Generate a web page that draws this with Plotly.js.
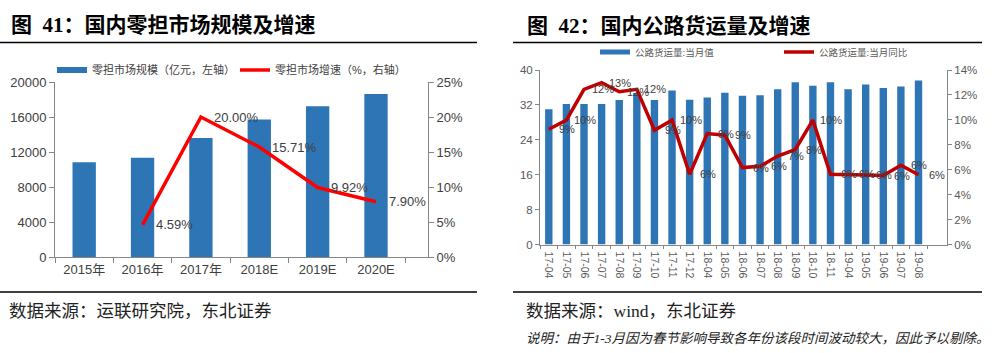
<!DOCTYPE html>
<html>
<head>
<meta charset="utf-8">
<script src="https://cdn.plot.ly/plotly-3.0.1.min.js"></script>
<style>
html,body{margin:0;padding:0;background:#fff;}
#chart{width:1005px;height:353px;}
</style>
</head>
<body>
<div id="chart"></div>
<script>
// ---- Figure 41 data ----
const years = ['2015年', '2016年', '2017年', '2018E', '2019E', '2020E'];
const marketSize = [10830, 11330, 13600, 15720, 17240, 18640];
const marketGrowth = [null, 4.59, 20.00, 15.71, 9.92, 7.90];
const marketGrowthLabels = ['', '4.59%', '20.00%', '15.71%', '9.92%', '7.90%'];

// ---- Figure 42 data ----
const months = ['17-04','17-05','17-06','17-07','17-08','17-09','17-10','17-11','17-12',
                '18-04','18-05','18-06','18-07','18-08','18-09','18-10','18-11',
                '19-04','19-05','19-06','19-07','19-08'];
const freightVolume = [31.0, 32.2, 32.2, 32.2, 33.1, 34.7, 33.1, 35.3, 33.2,
                       33.7, 34.8, 34.1, 34.2, 35.6, 37.2, 36.4, 37.2,
                       35.6, 36.7, 35.9, 36.2, 37.6];
const freightYoY = [9.25, 9.98, 12.45, 12.98, 12.25, 12.45, 9.17, 9.98, 5.63,
                    8.9, 8.77, 6.17, 6.27, 7.1, 7.62, 9.98, 5.63,
                    5.63, 5.58, 5.53, 6.36, 5.6];
const freightYoYLabels = ['9%','10%','12%','13%','12%','12%','9%','10%','6%',
                          '9%','9%','6%','6%','7%','8%','10%','6%',
                          '6%','6%','6%','6%','6%'];

const W = 1005, H = 353;
const px = v => v / W;
const py = v => 1 - v / H;

const BLUE = '#2E75B6';
const RED1 = '#FF0000';
const RED2 = '#C00000';
const SANS = 'Liberation Sans, Arial, Noto Sans CJK SC, sans-serif';
const SERIF = 'Liberation Serif, Noto Sans CJK SC, serif';

const traces = [
  // Fig 41
  {type:'bar', x: years, y: marketSize, xaxis:'x', yaxis:'y', marker:{color:BLUE},
   width:0.4, showlegend:false, hoverinfo:'skip'},
  {type:'scatter', mode:'lines', x:[null], y:[null], xaxis:'x', yaxis:'y',
   line:{color:BLUE, width:6}, name:'零担市场规模（亿元，左轴）', legend:'legend', hoverinfo:'skip'},
  {type:'scatter', mode:'lines', x: years, y: marketGrowth, xaxis:'x', yaxis:'y2',
   line:{color:RED1, width:3.5}, connectgaps:false, name:'零担市场增速（%，右轴）', legend:'legend2', hoverinfo:'skip'},
  // Fig 42
  {type:'bar', x: months, y: freightVolume, xaxis:'x2', yaxis:'y3', marker:{color:BLUE},
   width:0.42, showlegend:false, hoverinfo:'skip'},
  {type:'scatter', mode:'lines', x:[null], y:[null], xaxis:'x2', yaxis:'y3',
   line:{color:BLUE, width:5}, name:'公路货运量:当月值', legend:'legend3', hoverinfo:'skip'},
  {type:'scatter', mode:'lines', x: months, y: freightYoY, xaxis:'x2', yaxis:'y4',
   line:{color:RED2, width:3.5}, name:'公路货运量:当月同比', legend:'legend4', hoverinfo:'skip'}
];

const annotations = [];
// Fig 41 line labels
years.forEach((c, i) => {
  if (marketGrowth[i] == null) return;
  annotations.push({xref:'x', yref:'y2', x:c, y:marketGrowth[i], text:marketGrowthLabels[i],
    showarrow:false, xanchor:'left', yanchor:'middle', xshift:11,
    font:{family:SANS, size:13, color:'#404040'}});
});
// Fig 42 line labels (shifted one category to the right, as in the source)
months.forEach((c, i) => {
  annotations.push({xref:'x2', yref:'y4', x:c, y:freightYoY[i], text:freightYoYLabels[i],
    showarrow:false, xanchor:'center', yanchor:'middle', xshift:18.5,
    font:{family:SANS, size:11, color:'#404040'}});
});
// Titles & sources
annotations.push(
  {xref:'paper', yref:'paper', x:px(9), y:py(25), xanchor:'left', yanchor:'middle', showarrow:false,
   text:'<b>图  41：国内零担市场规模及增速</b>', font:{family:SERIF, size:21, color:'#000'}},
  {xref:'paper', yref:'paper', x:px(525), y:py(26), xanchor:'left', yanchor:'middle', showarrow:false,
   text:'<b>图  42：国内公路货运量及增速</b>', font:{family:SERIF, size:21, color:'#000'}},
  {xref:'paper', yref:'paper', x:px(7), y:py(311), xanchor:'left', yanchor:'middle', showarrow:false,
   text:'数据来源：运联研究院，东北证券', font:{family:SERIF, size:17.5, color:'#222'}},
  {xref:'paper', yref:'paper', x:px(524), y:py(311), xanchor:'left', yanchor:'middle', showarrow:false,
   text:'数据来源：wind，东北证券', font:{family:SERIF, size:17.5, color:'#222'}},
  {xref:'paper', yref:'paper', x:px(524), y:py(338), xanchor:'left', yanchor:'middle', showarrow:false,
   text:'<i>说明：由于1-3月因为春节影响导致各年份该段时间波动较大，因此予以剔除。</i>', font:{family:SERIF, size:13.5, color:'#222'}}
);

const shapes = [
  {type:'line', xref:'paper', yref:'paper', x0:0, x1:px(477), y0:py(42.5), y1:py(42.5), line:{color:'#000', width:1.6}},
  {type:'line', xref:'paper', yref:'paper', x0:0, x1:px(477), y0:py(292), y1:py(292), line:{color:'#000', width:1.6}},
  {type:'line', xref:'paper', yref:'paper', x0:px(513), x1:px(982), y0:py(42.5), y1:py(42.5), line:{color:'#000', width:1.6}},
  {type:'line', xref:'paper', yref:'paper', x0:px(513), x1:px(982), y0:py(292), y1:py(292), line:{color:'#000', width:1.6}}
];

const axisCommon = {showgrid:false, zeroline:false, showline:true, linecolor:'#868686', linewidth:1,
  ticks:'outside', ticklen:5, tickcolor:'#868686', fixedrange:true};

const legendCommon = {orientation:'h', xanchor:'left', yanchor:'middle', bgcolor:'rgba(0,0,0,0)',
  itemwidth:30, itemclick:false, itemdoubleclick:false};

const layout = {
  width:W, height:H, margin:{l:0, r:0, t:0, b:0}, paper_bgcolor:'#fff', plot_bgcolor:'rgba(0,0,0,0)',
  showlegend:true, hovermode:false,
  xaxis: Object.assign({}, axisCommon, {domain:[px(55), px(428)], anchor:'y', type:'category', tickson:'boundaries',
    tickfont:{family:SANS, size:13, color:'#404040'}}),
  yaxis: Object.assign({}, axisCommon, {domain:[py(257), py(82)], anchor:'x', range:[0, 20000], dtick:4000, tickformat:'d',
    tickfont:{family:SANS, size:13, color:'#404040'}}),
  yaxis2: Object.assign({}, axisCommon, {overlaying:'y', anchor:'x', side:'right', range:[0, 25], dtick:5, ticksuffix:'%',
    tickfont:{family:SANS, size:13, color:'#404040'}}),
  xaxis2: Object.assign({}, axisCommon, {domain:[px(540), px(947)], anchor:'y3', type:'category', tickson:'boundaries',
    tickangle:90, ticklen:3, ticklabelstandoff:4, tickfont:{family:SANS, size:10.5, color:'#595959'}}),
  yaxis3: Object.assign({}, axisCommon, {domain:[py(244.5), py(70)], anchor:'x2', range:[0, 40], dtick:8, ticklen:4,
    tickfont:{family:SANS, size:11.5, color:'#595959'}}),
  yaxis4: Object.assign({}, axisCommon, {overlaying:'y3', anchor:'x2', side:'right', range:[0, 14], dtick:2, ticksuffix:'%', ticklen:4,
    tickfont:{family:SANS, size:11.5, color:'#595959'}}),
  legend: Object.assign({}, legendCommon, {x:px(52), y:py(70), font:{family:SANS, size:11, color:'#404040'}}),
  legend2: Object.assign({}, legendCommon, {x:px(235), y:py(70), font:{family:SANS, size:11, color:'#404040'}}),
  legend3: Object.assign({}, legendCommon, {x:px(595), y:py(52), font:{family:SANS, size:9.5, color:'#595959'}}),
  legend4: Object.assign({}, legendCommon, {x:px(779), y:py(52), font:{family:SANS, size:9.5, color:'#595959'}}),
  annotations: annotations,
  shapes: shapes
};

Plotly.newPlot('chart', traces, layout, {displayModeBar:false, staticPlot:true});
</script>
</body>
</html>
